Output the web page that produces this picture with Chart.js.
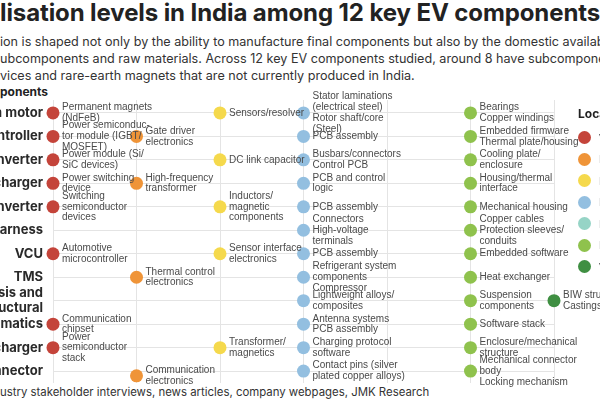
<!DOCTYPE html>
<html><head><meta charset="utf-8">
<script src="https://cdn.jsdelivr.net/npm/chart.js@4"></script>
<style>
html,body{margin:0;padding:0;background:#fff;width:600px;height:400px;overflow:hidden;position:relative;font-family:Inter,"Liberation Sans",sans-serif;color:#222}
.ln{position:absolute;white-space:nowrap}
.pre{display:inline-block}
#wrap{position:absolute;left:-120px;top:0;width:720px;height:400px}
#legend{position:absolute;left:578px;top:106px;font-family:"Liberation Sans",sans-serif;font-size:11px;color:#444;white-space:nowrap}
#legend .t{font-family:Inter,sans-serif;font-weight:700;font-size:12px;color:#222;margin-bottom:6px}
#legend .it{height:21.5px;display:flex;align-items:center}
#legend .d{width:13px;height:13px;border-radius:50%;display:inline-block;margin-right:8px}
</style></head><body>
<div class="ln" data-top="-2" style="font-size:24px;font-weight:700;letter-spacing:-0.1px"><span class="pre">Loca</span>lisation levels in India among 12 key EV components</div>
<div class="ln" data-top="34" style="font-size:12.6px;color:#333"><span class="pre">Localisat</span>ion is shaped not only by the ability to manufacture final components but also by the domestic availability of</div>
<div class="ln" data-top="51" style="font-size:12.6px;color:#333"><span class="pre">key s</span>ubcomponents and raw materials. Across 12 key EV components studied, around 8 have subcomponents such as</div>
<div class="ln" data-top="68" style="font-size:12.6px;color:#333"><span class="pre">semiconductor de</span>vices and rare-earth magnets that are not currently produced in India.</div>
<div class="ln" data-top="84" style="font-size:12px;font-weight:700"><span class="pre">Com</span>ponents</div>
<div class="ln" data-top="385" style="font-size:11.4px;color:#333"><span class="pre">Source: Ind</span>ustry stakeholder interviews, news articles, company webpages, JMK Research</div>
<div id="wrap"><canvas id="c" width="720" height="400"></canvas></div>
<div id="legend"></div>
<script>
const components = ["Traction motor","Motor controller","Inverter","On-board charger","DC-DC converter","Wiring harness","VCU","TMS",["Chassis and","structural"],"Telematics","Off-board charger","Charging connector"];
const levels = ["Very low","Low","Low to medium","Medium","Medium to high","High","Very high"];
const levelColors = ["#c4443a","#ef9438","#f5d94c","#93bfe0","#96d4c6","#8fc24d","#3f8f42"];
// per level: row index + subcomponent label lines
const veryLow = [[0,["Permanent magnets","(NdFeB)"]],[1,["Power semiconduc-","tor module (IGBT/","MOSFET)"]],[2,["Power module (Si/","SiC devices)"]],[3,["Power switching","device"]],[4,["Switching","semiconductor","devices"]],[6,["Automotive","microcontroller"]],[9,["Communication","chipset"]],[10,["Power","semiconductor","stack"]]];
const low = [[1,["Gate driver","electronics"]],[3,["High-frequency","transformer"]],[7,["Thermal control","electronics"]],[11.2,["Communication","electronics"]]];
const lowMedium = [[0,["Sensors/resolver"]],[2,["DC link capacitor"]],[4,["Inductors/","magnetic","components"]],[6,["Sensor interface","electronics"]],[10,["Transformer/","magnetics"]]];
const medium = [[0,["Stator laminations","(electrical steel)","Rotor shaft/core","(Steel)"]],[1,["PCB assembly"]],[2,["Busbars/connectors","Control PCB"]],[3,["PCB and control","logic"]],[4,["PCB assembly"]],[5,["Connectors","High-voltage","terminals"]],[6,["PCB assembly"]],[7,["Refrigerant system","components","Compressor"]],[8,["Lightweight alloys/","composites"]],[9,["Antenna systems","PCB assembly"]],[10,["Charging protocol","software"]],[11,["Contact pins (silver","plated copper alloys)"]]];
const mediumHigh = [];
const high = [[0,["Bearings","Copper windings"]],[1,["Embedded firmware","Thermal plate/housing"]],[2,["Cooling plate/","enclosure"]],[3,["Housing/thermal","interface"]],[4,["Mechanical housing"]],[5,["Copper cables","Protection sleeves/","conduits"]],[6,["Embedded software"]],[7,["Heat exchanger"]],[8,["Suspension","components"]],[9,["Software stack"]],[10,["Enclosure/mechanical","structure"]],[11,["Mechanical connector","body","Locking mechanism"]]];
const veryHigh = [[8,["BIW structure","Castings"]]];
const series = [veryLow,low,lowMedium,medium,mediumHigh,high,veryHigh];

document.querySelectorAll('.ln').forEach(el=>{const p=el.querySelector('.pre');el.style.left=(-p.getBoundingClientRect().width)+'px';el.style.top=el.dataset.top+'px';});
const lg=document.getElementById('legend');
lg.innerHTML='<div class="t">Localisation level</div>'+levels.map((l,i)=>`<div class="it"><span class="d" style="background:${levelColors[i]}"></span>${l}</div>`).join('');

const datasets = series.map((s,i)=>({label:levels[i],data:s.map(p=>({x:i,y:p[0],lab:p[1]})),backgroundColor:levelColors[i],borderWidth:0,pointRadius:6.5,pointHoverRadius:6.5,clip:false}));
const labelPlugin={id:'labs',afterDatasetsDraw(ch){const c=ch.ctx;c.save();c.font='10px "Liberation Sans", Arial, sans-serif';c.fillStyle='#4a4a4a';c.textBaseline='middle';
 ch.data.datasets.forEach((ds,di)=>{const m=ch.getDatasetMeta(di);m.data.forEach((el,j)=>{const lines=ds.data[j].lab;const lh=10.8;const y0=el.y-(lines.length-1)*lh/2;lines.forEach((t,k)=>c.fillText(t,el.x+9,y0+k*lh));});});c.restore();}};
new Chart(document.getElementById('c'),{type:'scatter',data:{datasets},plugins:[labelPlugin],
options:{responsive:false,animation:false,events:[],layout:{padding:{top:100,bottom:17,right:46,left:0}},
plugins:{legend:{display:false},tooltip:{enabled:false}},
scales:{
 x:{type:'linear',min:0,max:6,border:{display:false},grid:{color:'#e4e4e4',drawTicks:false},ticks:{display:false,stepSize:1},afterFit(a){a.height=0;}},
 y:{type:'linear',reverse:true,min:-0.55,max:11.5,border:{display:false},grid:{color:'#e4e4e4',drawTicks:false},
  afterBuildTicks(a){a.ticks=components.map((_,i)=>({value:i}));},
  afterFit(a){a.width=173;},
  ticks:{autoSkip:false,padding:10,color:'#2a2a2a',font:{family:'Inter',weight:'bold',size:13,lineHeight:1.1},callback:(v)=>components[v]}}
}}});
</script></body></html>
